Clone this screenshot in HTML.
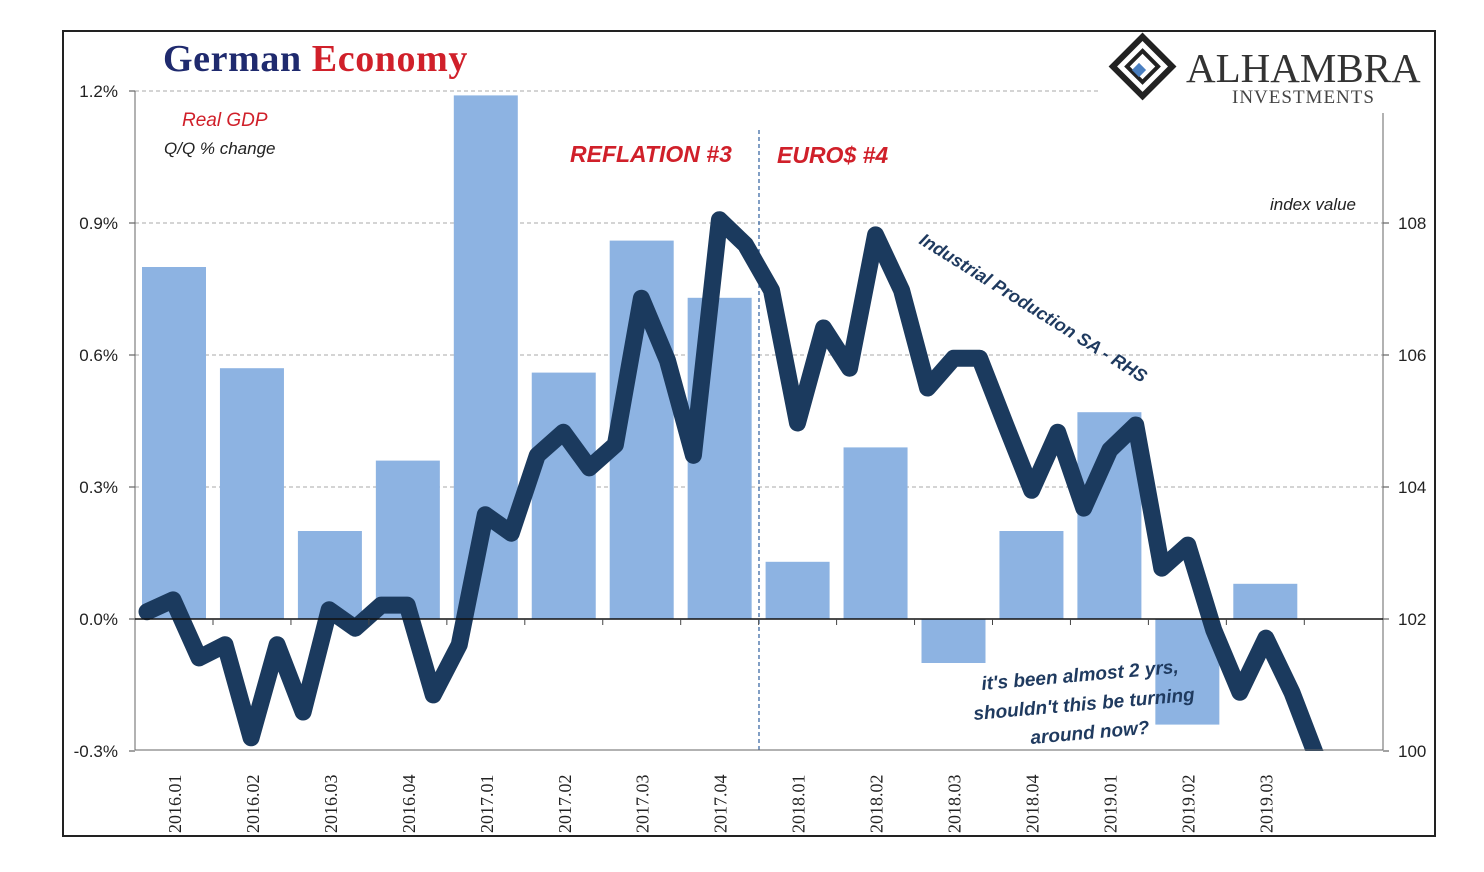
<!DOCTYPE html>
<html><head><meta charset="utf-8"><style>
body{margin:0;background:#fff;width:1484px;height:872px;overflow:hidden}
svg{position:absolute;left:0;top:0}
</style></head><body>
<svg id="chart" width="1484" height="872" xmlns="http://www.w3.org/2000/svg" font-family="Liberation Sans, sans-serif">
<rect x="63" y="31" width="1372" height="805" fill="#fff" stroke="#222" stroke-width="2"/>
<g id="grid"></g>
<g id="bars"></g>
<line x1="759" y1="130" x2="759" y2="750" stroke="#2e5f9e" stroke-width="1.2" stroke-dasharray="4,3"/>
<clipPath id="pc"><rect x="135" y="60" width="1248" height="691"/></clipPath>
<g id="lineg" clip-path="url(#pc)"></g>
<g id="axes"></g>
<text x="163" y="71" font-family="Liberation Serif, serif" font-weight="bold" font-size="38" letter-spacing="0.6" fill="#1f2a6e">German <tspan fill="#d0202a">Economy</tspan></text>
<text x="182" y="126" font-style="italic" font-size="19" fill="#d0202a">Real GDP</text>
<text x="164" y="154" font-style="italic" font-size="17" fill="#222">Q/Q % change</text>
<text x="570" y="162" font-style="italic" font-weight="bold" font-size="23" fill="#d0202a">REFLATION #3</text>
<text x="777" y="163" font-style="italic" font-weight="bold" font-size="23" fill="#d0202a">EURO$ #4</text>
<text x="1270" y="210" font-style="italic" font-size="17" fill="#222">index value</text>
<text transform="translate(918,243) rotate(32)" font-style="italic" font-weight="bold" font-size="18" fill="#1f3a5f">Industrial Production SA - RHS</text>
<g font-style="italic" font-weight="bold" font-size="19" fill="#1f3a5f">
<text transform="translate(982,690) rotate(-5)">it's been almost 2 yrs,</text>
<text transform="translate(974,720) rotate(-5)">shouldn't this be turning</text>
<text transform="translate(1031,744) rotate(-5)">around now?</text>
</g>
<g>
<rect x="1100" y="33" width="333" height="80" fill="#fff"/>
<rect x="1118" y="44" width="42" height="42" transform="rotate(45 1139 70)" fill="none" stroke="#222" stroke-width="6"/>
<rect x="1128" y="54" width="22" height="22" transform="rotate(45 1139 70)" fill="none" stroke="#222" stroke-width="4"/>
<rect x="1134" y="65" width="10" height="10" transform="rotate(45 1139 70)" fill="#4a7fc0"/>
<text x="1186" y="82" font-family="Liberation Serif, serif" font-size="41" fill="#333">ALHAMBRA</text>
<text x="1232" y="103" font-family="Liberation Serif, serif" font-size="19" letter-spacing="1" fill="#444">INVESTMENTS</text>
</g>
</svg>
<script>
const quarters=["2016.01","2016.02","2016.03","2016.04","2017.01","2017.02","2017.03","2017.04","2018.01","2018.02","2018.03","2018.04","2019.01","2019.02","2019.03"];
const gdp=[0.8,0.57,0.2,0.36,1.19,0.56,0.86,0.73,0.13,0.39,-0.1,0.2,0.47,-0.24,0.08];
const ip=[102.11,102.29,101.41,101.61,100.2,101.61,100.59,102.14,101.86,102.21,102.21,100.85,101.61,103.58,103.3,104.48,104.83,104.29,104.64,106.86,105.92,104.48,108.05,107.67,106.98,104.97,106.41,105.8,107.82,106.98,105.5,105.95,105.95,104.94,103.95,104.83,103.68,104.56,104.94,102.77,103.12,101.83,100.89,101.71,100.89,99.86];
const leftTicks=[-0.3,0,0.3,0.6,0.9,1.2];
const leftLabels=["-0.3%","0.0%","0.3%","0.6%","0.9%","1.2%"];
const rightTicks=[100,102,104,106,108];
const NS="http://www.w3.org/2000/svg";
const yL=v=>619-v*440;
const yR=v=>619-(v-102)*66;
const xQ=i=>174+i*77.95;
const xM=i=>147+i*26.02;
function mk(tag,attrs,parent){const e=document.createElementNS(NS,tag);for(const k in attrs)e.setAttribute(k,attrs[k]);document.getElementById(parent).appendChild(e);return e;}
leftTicks.forEach((t,i)=>{
 if(t!==0&&t!==-0.3){const g=mk('line',{x1:135,x2:1383,y1:yL(t),y2:yL(t),stroke:'#aaa','stroke-dasharray':'4,3'},'grid');
 
 }
 const tx=mk('text',{x:118,y:yL(t)+6,'text-anchor':'end','font-size':17,fill:'#222'},'axes');tx.textContent=leftLabels[i];
 
 
 mk('line',{x1:129,x2:135,y1:yL(t),y2:yL(t),stroke:'#444'},'axes');
});
rightTicks.forEach(t=>{
 const tx=mk('text',{x:1398,y:yR(t)+6,'font-size':17,fill:'#222'},'axes');tx.textContent=t;
 
 
 mk('line',{x1:1383,x2:1389,y1:yR(t),y2:yR(t),stroke:'#444'},'axes');
});
mk('line',{x1:135,x2:135,y1:91,y2:750,stroke:'#666'},'axes');
mk('line',{x1:1383,x2:1383,y1:113,y2:750,stroke:'#666'},'axes');
mk('line',{x1:135,x2:1383,y1:750,y2:750,stroke:'#666'},'axes');
mk('line',{x1:135,x2:1383,y1:yL(0),y2:yL(0),stroke:'#111','stroke-width':1.5},'axes');
gdp.forEach((v,i)=>{
 const r=mk('rect',{x:xQ(i)-32,width:64,y:Math.min(yL(v),yL(0)),height:Math.abs(yL(v)-yL(0)),fill:'#8db3e2'},'bars');
 
 
 const tx=mk('text',{transform:`translate(${xQ(i)+7},833) rotate(-90)`,'font-family':'Liberation Serif, serif','font-size':18,fill:'#222'},'axes');
 tx.textContent=quarters[i];
 
 
 mk('line',{x1:xQ(i)+39,x2:xQ(i)+39,y1:619,y2:625,stroke:'#444'},'axes');
});
const p=mk('polyline',{points:ip.map((v,i)=>xM(i)+','+yR(v)).join(' '),fill:'none',stroke:'#1b3a5e','stroke-width':17,'stroke-linejoin':'round','stroke-linecap':'round'},'lineg');


</script>
</body></html>
